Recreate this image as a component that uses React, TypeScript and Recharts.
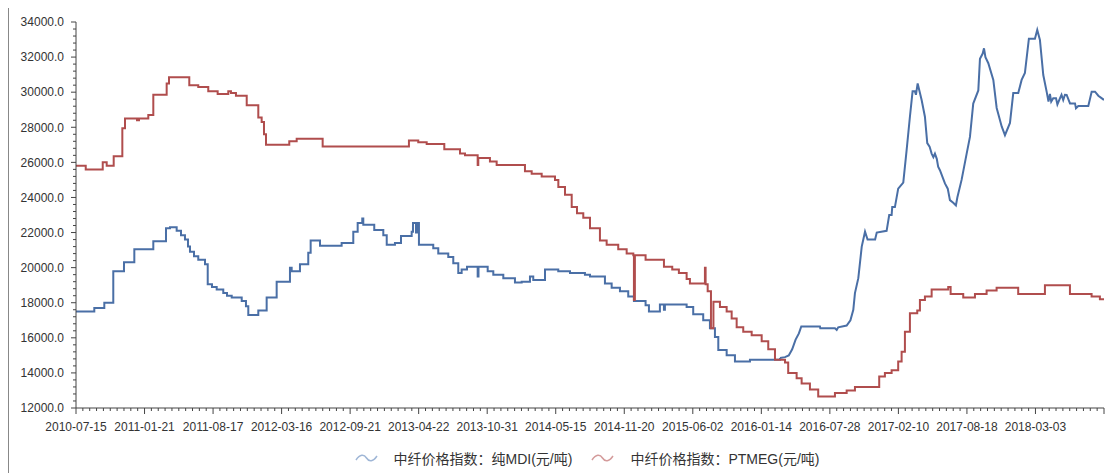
import { LineChart, Line, XAxis, YAxis, Legend } from "recharts";

// x positions are in minor-tick steps of the category axis (10 steps per labelled date)
const X_LABELS = [
  "2010-07-15", "2011-01-21", "2011-08-17", "2012-03-16", "2012-09-21",
  "2013-04-22", "2013-10-31", "2014-05-15", "2014-11-20", "2015-06-02",
  "2016-01-14", "2016-07-28", "2017-02-10", "2017-08-18", "2018-03-03",
];

const Y_LABELS = [12000, 14000, 16000, 18000, 20000, 22000, 24000, 26000, 28000, 30000, 32000, 34000];

const MDI_NAME = "中纤价格指数：纯MDI(元/吨)";
const PTMEG_NAME = "中纤价格指数：PTMEG(元/吨)";

// MDI up to early 2016: price levels, each held until the next change
const MDI_STEPS: [number, number][] = [
  [0, 17500], [2.67, 17700], [4.13, 18000], [5.44, 19800], [7.0, 20300], [8.51, 21050],
  [11.28, 21500], [13.13, 22250], [13.71, 22300], [14.69, 22100], [15.32, 21850], [15.9, 21600],
  [16.34, 21200], [16.63, 20900], [17.22, 20650], [17.84, 20450], [18.82, 20200], [19.22, 19050],
  [19.84, 18900], [20.53, 18750], [21.49, 18550], [22.03, 18400], [22.72, 18300], [24.18, 18100],
  [24.8, 17800], [25.14, 17300], [26.6, 17550], [27.82, 18300], [29.28, 19200], [31.22, 20000],
  [31.47, 19800], [32.68, 20200], [33.89, 20850], [34.24, 21550], [35.6, 21250], [38.76, 21400],
  [40.46, 22050], [41.1, 22550], [41.77, 22800], [41.92, 22450], [43.52, 22150], [44.84, 21850],
  [45.34, 21300], [46.54, 21400], [47.42, 21800], [48.98, 22050], [49.17, 22550], [49.61, 22000],
  [49.75, 22550], [50.04, 21300], [52.13, 21100], [52.86, 20800], [54.32, 20600], [55.05, 20250],
  [55.78, 19700], [56.27, 19900], [57.05, 20050], [58.61, 19500], [58.73, 20050], [60.07, 19800],
  [60.89, 19600], [62.35, 19400], [64.05, 19150], [65.03, 19200], [66.24, 19500], [66.72, 19300],
  [68.43, 19900], [70.37, 19800], [72.08, 19700], [74.26, 19600], [75, 19500], [77.18, 19100],
  [78.16, 18850], [79.37, 18650], [80.58, 18350], [81.41, 18100], [83.11, 17850], [83.6, 17500],
  [85.2, 17900], [85.79, 17600], [85.93, 17900], [89.1, 17750], [90.06, 17350], [91.52, 17000],
  [92.5, 16550], [93.23, 16050], [93.72, 15300], [94.94, 15000], [96.15, 14650], [98.34, 14750],
  [102.72, 14850],
];

// MDI from 2016 on: daily moves, read as a polyline
const MDI_LATE: [number, number][] = [
  [102.72, 14850], [103.45, 14900], [104.0, 15000], [104.5, 15350], [105.0, 15900], [105.48, 16250],
  [105.83, 16650], [108.55, 16650], [108.6, 16550], [110.74, 16550], [111.0, 16450], [111.22, 16600],
  [112.45, 16700], [113.0, 17000], [113.42, 17600], [113.66, 18550], [114.15, 19400], [114.65, 21200],
  [115.13, 22050], [115.5, 21600], [116.6, 21600], [116.84, 22000], [118.28, 22100], [118.66, 23000],
  [119.01, 23000], [119.1, 23450], [119.49, 23450], [119.97, 24500], [120.71, 24850], [121.2, 26700],
  [121.68, 28600], [122.07, 30050], [122.4, 30050], [122.56, 29850], [122.81, 30500], [123.39, 29550],
  [123.87, 28600], [124.21, 27100], [124.55, 26900], [124.85, 26500], [125.1, 26300], [125.33, 26500],
  [125.6, 26200], [125.8, 25750], [126.06, 25550], [126.5, 25100], [126.79, 24800], [127.2, 24500],
  [127.52, 23850], [128.0, 23700], [128.39, 23550], [128.6, 24000], [129.22, 25000], [129.96, 26500],
  [130.44, 27450], [130.92, 29350], [131.66, 30100], [131.9, 31900], [132.3, 32200], [132.49, 32500],
  [132.7, 32000], [133.12, 31650], [133.85, 30700], [134.34, 29100], [135.07, 28050], [135.55, 27550],
  [136.28, 28250], [136.76, 29950], [137.49, 29950], [137.98, 30700], [138.46, 31100], [139.04, 33050],
  [139.92, 33050], [140.26, 33550], [140.65, 32980], [141.14, 30980], [141.63, 30030], [141.9, 29460],
  [142.11, 29900], [142.3, 29460], [142.59, 29650], [143.0, 29650], [143.2, 29300], [143.57, 29650],
  [143.8, 29850], [144.05, 29550], [144.3, 29850], [144.55, 29840], [145.04, 29360], [145.77, 29360],
  [145.91, 29080], [146.25, 29210], [147.71, 29210], [148.2, 30030], [148.69, 30030], [149.17, 29800],
  [149.9, 29590], [150, 29590],
];

const PTMEG: [number, number][] = [
  [0, 25800], [1.42, 25600], [3.9, 26000], [4.48, 25800], [5.5, 26350], [6.76, 27950],
  [7.15, 28500], [8.9, 28400], [9.19, 28500], [10.55, 28700], [11.28, 29850], [13.23, 30500],
  [13.57, 30850], [16.53, 30400], [17.84, 30300], [19.3, 30050], [20.67, 29900], [22.22, 30050],
  [22.61, 29950], [23.34, 29800], [24.91, 29250], [26.6, 28550], [27.09, 28300], [27.43, 27600],
  [27.72, 27000], [31.12, 27200], [32.2, 27350], [35.99, 26900], [48.58, 27250], [49.94, 27150],
  [51.17, 27050], [53.74, 26750], [56.03, 26500], [56.76, 26400], [58.61, 25850], [58.7, 26250],
  [60.4, 26050], [61.38, 25850], [65.51, 25500], [66.49, 25350], [67.95, 25200], [69.89, 25000],
  [70.38, 24600], [71.35, 24150], [72.33, 23450], [73.1, 23100], [74.02, 22850], [75, 22250],
  [76.45, 21550], [77.43, 21300], [79.12, 21050], [80.35, 20800], [81.32, 20700], [81.41, 18150],
  [81.55, 20700], [83.11, 20450], [85.79, 20050], [87, 19900], [87.97, 19700], [89.1, 19350],
  [89.58, 19100], [91.77, 20000], [91.87, 19050], [92.17, 18650], [92.65, 16550], [93.01, 18050],
  [93.96, 17750], [94.94, 17500], [95.67, 17100], [96.4, 16600], [97.36, 16350], [98.59, 16150],
  [100.05, 15800], [101.01, 15350], [101.99, 14750], [103.45, 14600], [103.92, 14000], [105.15, 13700],
  [105.88, 13400], [107.09, 13050], [108.3, 12650], [110.74, 12850], [112.45, 13000], [113.66, 13200],
  [117.2, 13800], [118.03, 14000], [119.01, 14150], [119.97, 14650], [120.47, 15200], [120.95, 16350],
  [121.68, 17400], [122.75, 17550], [123.14, 18150], [123.87, 18350], [124.85, 18750], [127.27, 18900],
  [127.62, 18500], [129.46, 18300], [131.17, 18500], [132.87, 18700], [134.33, 18850], [137.48, 18500],
  [141.38, 19000], [145.03, 18500], [148.19, 18350], [149.4, 18200], [150, 18200],
];

const toRows = (pts: [number, number][]) => pts.map(([t, v]) => ({ t, v }));

const MDI_COLOR = "#4a6fa6";
const PTMEG_COLOR = "#b04d4d";

const legendItems = [
  { name: MDI_NAME, light: "#9fb6d6" },
  { name: PTMEG_NAME, light: "#d49b9b" },
];

const lines = [
  { key: "mdi-a", color: MDI_COLOR, type: "stepAfter", data: toRows(MDI_STEPS) },
  { key: "mdi-b", color: MDI_COLOR, type: "linear", data: toRows(MDI_LATE) },
  { key: "ptmeg", color: PTMEG_COLOR, type: "stepAfter", data: toRows(PTMEG) },
];

const X_MAX = 150;
const xTicks: number[] = [];
for (let i = 0; i <= X_MAX; i++) xTicks.push(i);
const yTicks: number[] = [];
for (let v = 12000; v <= 34000; v += 400) yTicks.push(v);

const FONT = "'Liberation Sans', Arial, 'Noto Sans CJK SC', sans-serif";
const AXIS = "#444";

function XTick(props: any) {
  const { x, y, payload } = props;
  const major = payload.value % 10 === 0;
  const label = major ? X_LABELS[payload.value / 10] : undefined;
  return (
    <g>
      <line x1={x} x2={x} y1={y} y2={y + (major ? 6 : 3)} stroke={AXIS} />
      {label && (
        <text x={x} y={y + 14} dy="0.71em" textAnchor="middle" fontSize={12} fill="#333" fontFamily={FONT}>
          {label}
        </text>
      )}
    </g>
  );
}

function YTick(props: any) {
  const { x, y, payload } = props;
  const major = Y_LABELS.includes(payload.value);
  return (
    <g>
      <line x1={x - (major ? 5 : 3)} x2={x} y1={y} y2={y} stroke={AXIS} />
      {major && (
        <text x={x - 12} y={y} dy="0.355em" textAnchor="end" fontSize={12} fill="#333" fontFamily={FONT}>
          {payload.value.toFixed(1)}
        </text>
      )}
    </g>
  );
}

function LegendContent() {
  return (
    <div style={{ height: 30, display: "flex", justifyContent: "center", alignItems: "center", fontFamily: FONT, fontSize: 14, color: "#333" }}>
      {legendItems.map((s, i) => (
        <div key={s.name} style={{ display: "flex", alignItems: "center", marginLeft: i ? 19 : 0 }}>
          <svg width={23} height={10} style={{ marginRight: 16 }}>
            <path d="M1,7 C5,1 9,1 11.5,5 C14,9 18,9 22,3" fill="none" stroke={s.light} strokeWidth={1.5} />
          </svg>
          <span>{s.name}</span>
        </div>
      ))}
    </div>
  );
}

export default function App() {
  return (
    <div style={{ paddingTop: 8, paddingLeft: 8, width: 1097, height: 465 }}>
      <style>{"html{overflow:hidden} body{margin:0}"}</style>
      <div style={{ borderLeft: "1px solid #888", height: 465, width: 1096 }}>
        <LineChart width={1096} height={465} margin={{ top: 14, right: 1, bottom: 0, left: 0 }}>
          <XAxis
            dataKey="t"
            type="number"
            domain={[0, X_MAX]}
            ticks={xTicks}
            interval={0}
            tickSize={0}
            tickMargin={0}
            tick={<XTick />}
            height={35}
            stroke={AXIS}
            allowDuplicatedCategory={false}
          />
          <YAxis
            type="number"
            domain={[12000, 34000]}
            ticks={yTicks}
            interval={0}
            tickSize={0}
            tickMargin={0}
            tick={<YTick />}
            width={67}
            stroke={AXIS}
          />
          <Legend
            verticalAlign="bottom"
            height={30}
            content={<LegendContent />}
            wrapperStyle={{ left: 64, width: 1028 }}
          />
          {lines.map((s) => (
            <Line
              key={s.key}
              data={s.data}
              dataKey="v"
              type={s.type as any}
              stroke={s.color}
              strokeWidth={2}
              dot={false}
              activeDot={false}
              isAnimationActive={false}
            />
          ))}
        </LineChart>
      </div>
    </div>
  );
}
